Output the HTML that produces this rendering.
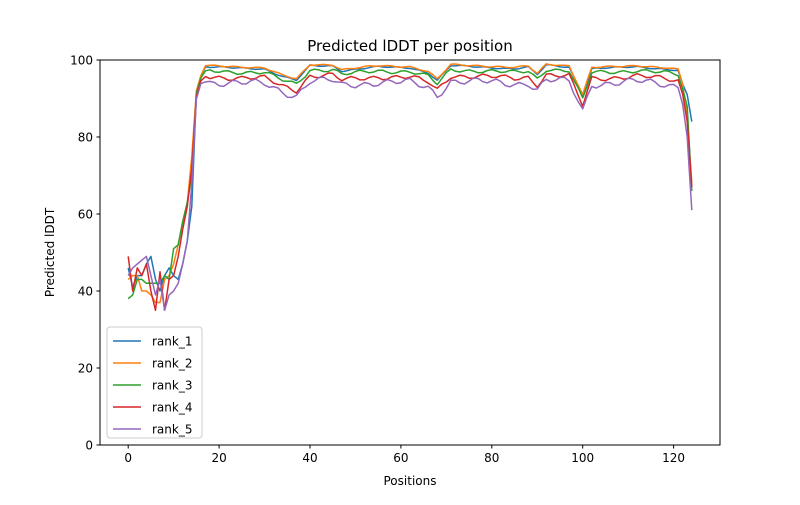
<!DOCTYPE html>
<html><head><meta charset="utf-8"><style>
body{margin:0;background:#fff;}
svg text{font-family:"DejaVu Sans","Liberation Sans",sans-serif;}
</style></head><body>
<svg id="s" width="800" height="500" xmlns="http://www.w3.org/2000/svg">
<rect width="800" height="500" fill="#fff"/>
<g id="lines"></g>
<rect x="100" y="60" width="620" height="385" fill="none" stroke="#000" stroke-width="1"/>
<g id="ticks" font-size="12" fill="#000"></g>
<text x="410" y="51" font-size="15" text-anchor="middle">Predicted lDDT per position</text>
<text x="410" y="485" font-size="12" text-anchor="middle">Positions</text>
<text transform="translate(54,252.5) rotate(-90)" font-size="12" text-anchor="middle">Predicted lDDT</text>
<g id="legend"></g>
</svg>
<script>
const X=i=>128.2+i*4.545, Y=v=>445-v*3.85;
const t=document.getElementById('ticks');
let h='';
for(let v=0;v<=120;v+=20){const x=X(v);h+=`<line x1="${x}" y1="445" x2="${x}" y2="448.5" stroke="#000"/><text x="${x}" y="462" text-anchor="middle">${v}</text>`;}
for(let v=0;v<=100;v+=20){const y=Y(v);h+=`<line x1="96.5" y1="${y}" x2="100" y2="${y}" stroke="#000"/><text x="93" y="${y+4.5}" text-anchor="end">${v}</text>`;}
t.innerHTML=h;
const kp=[[15,92],[16,96],[17,98.5],[30,98],[34,96],[37,95],[40,98.8],[45,98.8],[47,97.5],[55,98.5],[62,98.3],[66,97],[68,95],[71,98.8],[78,98.5],[85,98],[88,98.4],[90,96.5],[92,99],[97,98.5],[100,91],[102,98],[112,98.6],[119,97.8],[121,97.5],[123,90]];
function base(i){for(let k=0;k<kp.length-1;k++){const[a,va]=kp[k],[b,vb]=kp[k+1];if(i>=a&&i<=b)return va+(vb-va)*(i-a)/(b-a);}return kp[kp.length-1][1];}
const early={
 rank_1:[46,41,44,44,47,49,43,40,44,46,44,43,47,53,62],
 rank_2:[43,44,44,40,40,39,37,37,43,44,47,52,58,63,75],
 rank_3:[38,39,43,43,42,42,42,42,44,43,51,52,58,63,70],
 rank_4:[49,40,46,44,47,40,35,45,35,43,44,49,56,62,72],
 rank_5:[44,46,47,48,49,44,39,43,35,39,40,42,47,53,68]};
const off={rank_1:0.3,rank_2:0,rank_3:1.3,rank_4:2.8,rank_5:4.2};
const noise={rank_1:0.15,rank_2:0.15,rank_3:0.4,rank_4:0.5,rank_5:0.7};
const last={rank_1:[91,84],rank_2:[85,68],rank_3:[88,66],rank_4:[84,67],rank_5:[80,61]};
const col={rank_1:"#1f77b4",rank_2:"#ff7f0e",rank_3:"#2ca02c",rank_4:"#d62728",rank_5:"#9467bd"};
let L='';let k=0;
for(const r of ["rank_1","rank_2","rank_3","rank_4","rank_5"]){
 const pts=[];
 for(let i=0;i<=124;i++){let v;
  if(i<15)v=early[r][i];
  else if(i>=123)v=last[r][i-123];
  else{v=base(i)-off[r]*(i>16?1:0.5)+noise[r]*(Math.sin(i*1.3+k*2.3)+0.7*Math.sin(i*0.37+k))*(i>17?1:0);if(v>99)v=99;}
  pts.push(X(i).toFixed(1)+','+Y(v).toFixed(1));}
 L+=`<polyline points="${pts.join(' ')}" fill="none" stroke="${col[r]}" stroke-width="1.5" stroke-linejoin="round"/>`;k++;}
document.getElementById('lines').innerHTML=L;
let G=`<rect x="107" y="327" width="95" height="111" rx="3" fill="#fff" fill-opacity="0.8" stroke="#ccc"/>`;
k=0;for(const r in col){const y=341+k*22;G+=`<line x1="113" y1="${y}" x2="141" y2="${y}" stroke="${col[r]}" stroke-width="1.5"/><text x="152" y="${y+4.5}" font-size="12">${r}</text>`;k++;}
document.getElementById('legend').innerHTML=G;
</script>
</body></html>
